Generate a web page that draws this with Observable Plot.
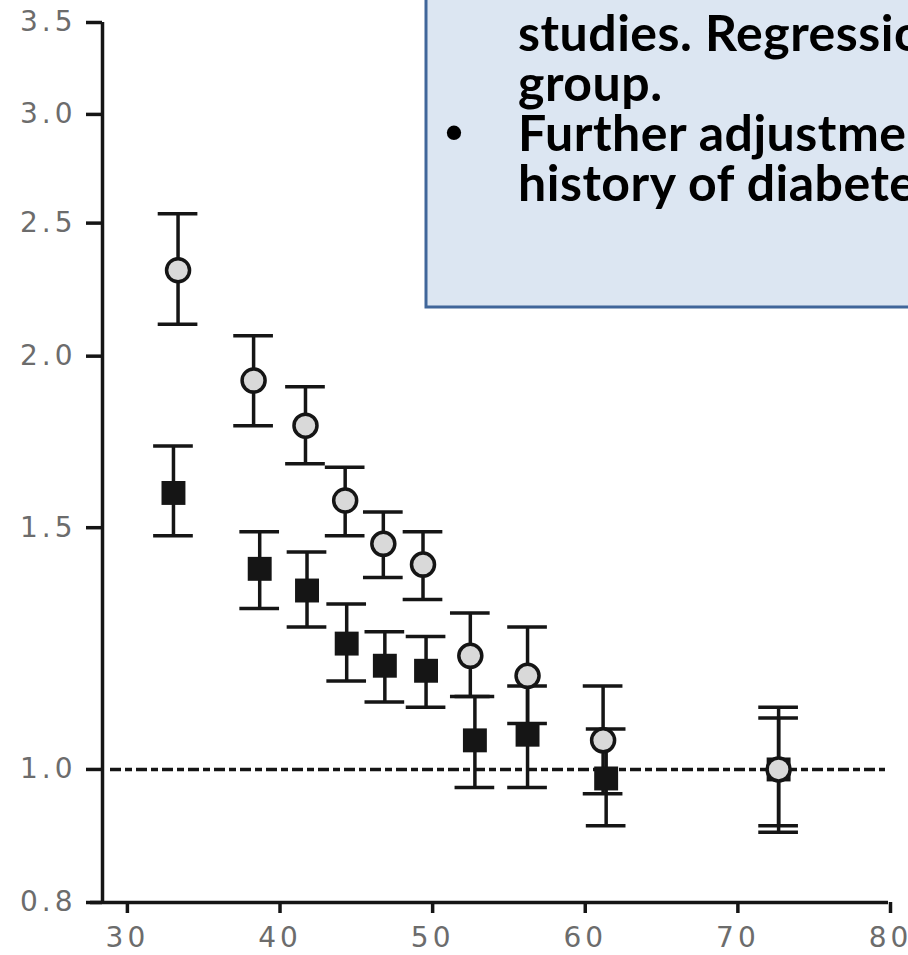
<!DOCTYPE html>
<html>
<head>
<meta charset="utf-8">
<script src="https://cdn.jsdelivr.net/npm/d3@7"></script>
<script src="https://cdn.jsdelivr.net/npm/@observablehq/plot@0.6"></script>
<style>
  html, body { margin: 0; padding: 0; background: #fff; overflow: hidden; }
  #wrap { position: relative; width: 908px; height: 955px; }
  #wrap > svg { position: absolute; left: 0; top: 0; }
  #wrap [aria-label="y-axis tick label"] text,
  #wrap [aria-label="x-axis tick label"] text { letter-spacing: 4px; }
</style>
</head>
<body>
<div id="wrap"></div>
<script>
// Age (years) on the x axis, hazard ratio (log scale) on the y axis.
const xTicks = [30, 40, 50, 60, 70, 80];
const yTicks = [0.8, 1.0, 1.5, 2.0, 2.5, 3.0, 3.5];

// Grey circles: hazard ratio with 95% CI by age group
const circleAge = [33.45, 38.4, 41.8, 44.4, 46.9, 49.5, 52.6, 56.35, 61.3, 72.8];
const circleHR  = [2.31, 1.92, 1.78, 1.57, 1.46, 1.41, 1.21, 1.17, 1.05, 1.00];
const circleLo  = [2.11, 1.78, 1.67, 1.48, 1.38, 1.33, 1.13, 1.08, 0.96, 0.90];
const circleHi  = [2.54, 2.07, 1.90, 1.66, 1.54, 1.49, 1.30, 1.27, 1.15, 1.11];

// Black squares: further adjusted hazard ratio with 95% CI
const squareAge = [33.15, 38.8, 41.9, 44.5, 47.0, 49.7, 52.9, 56.35, 61.5, 72.8];
const squareHR  = [1.59, 1.40, 1.35, 1.235, 1.19, 1.18, 1.05, 1.06, 0.985, 1.00];
const squareLo  = [1.48, 1.31, 1.27, 1.16, 1.12, 1.11, 0.97, 0.97, 0.91, 0.91];
const squareHi  = [1.72, 1.49, 1.44, 1.32, 1.26, 1.25, 1.13, 1.15, 1.07, 1.09];

// Text of the note panel
const noteLines = ["studies. Regression", "group.", "Further adjustment", "history of diabetes"];
const noteBullets = [false, false, true, false];

const toRows = (age, hr, lo, hi) => age.map((a, i) => ({age: a, hr: hr[i], lo: lo[i], hi: hi[i]}));
const circles = toRows(circleAge, circleHR, circleLo, circleHi);
const squares = toRows(squareAge, squareHR, squareLo, squareHi);
const allRows = squares.concat(circles);

const capHalf = 1.3; // half-width of the whiskers' caps, in years
const ink = "#151515";
const lw = 3.5;

const chart = Plot.plot({
  width: 908,
  height: 955,
  marginLeft: 102,
  marginRight: 20,
  marginTop: 22,
  marginBottom: 53,
  style: {background: "white", fontFamily: "DejaVu Sans", overflow: "visible"},
  x: {domain: [28.5, 80]},
  y: {type: "log", domain: [0.8, 3.5]},
  marks: [
    Plot.axisY(yTicks, {
      tickSize: 16, tickPadding: 10, tickFormat: d3.format(".1f"),
      stroke: ink, strokeWidth: lw, fill: "#6c6c6c", fontSize: 28, label: null
    }),
    Plot.axisX(xTicks, {
      tickSize: 11, tickPadding: 14, tickFormat: d3.format("d"),
      stroke: ink, strokeWidth: lw, fill: "#6c6c6c", fontSize: 28, label: null,
      dx: 2
    }),
    Plot.ruleX([28.5], {stroke: ink, strokeWidth: lw}),
    Plot.ruleY([0.8], {stroke: ink, strokeWidth: lw, insetLeft: -12}),
    Plot.ruleY([1.0], {stroke: ink, strokeWidth: lw, strokeDasharray: "11,4,7,4", insetLeft: 8, insetRight: 3}),
    // confidence intervals
    Plot.ruleX(allRows, {x: "age", y1: "lo", y2: "hi", stroke: ink, strokeWidth: lw}),
    Plot.ruleY(allRows, {y: "lo", x1: d => d.age - capHalf, x2: d => d.age + capHalf, stroke: ink, strokeWidth: lw}),
    Plot.ruleY(allRows, {y: "hi", x1: d => d.age - capHalf, x2: d => d.age + capHalf, stroke: ink, strokeWidth: lw}),
    // point estimates
    Plot.dot(squares, {x: "age", y: "hr", symbol: "square", r: 13.5, fill: ink, stroke: "none"}),
    Plot.dot(circles, {x: "age", y: "hr", r: 11.5, fill: "#d9d9d9", stroke: ink, strokeWidth: lw})
  ]
});

const wrap = document.getElementById("wrap");
wrap.appendChild(chart);

// Note panel laid over the upper right of the chart
const note = d3.create("svg")
  .attr("width", 908)
  .attr("height", 955)
  .style("pointer-events", "none");

note.append("rect")
  .attr("x", 426).attr("y", -20)
  .attr("width", 600).attr("height", 327)
  .attr("fill", "#dce6f2")
  .attr("stroke", "#40669a")
  .attr("stroke-width", 3);

const lineStep = 50.3;
const firstBaseline = 50.5;
const textG = note.append("g")
  .attr("font-family", "Lato, 'Open Sans', sans-serif")
  .attr("font-weight", 700)
  .attr("font-size", 50)
  .attr("letter-spacing", "0.5px")
  .attr("fill", "#000");

noteLines.forEach((t, i) => {
  const yb = firstBaseline + i * lineStep;
  textG.append("text").attr("x", 518).attr("y", yb).text(t);
  if (noteBullets[i]) {
    textG.append("text")
      .attr("x", 454).attr("y", yb - 2)
      .attr("text-anchor", "middle")
      .attr("letter-spacing", "0px")
      .attr("font-family", "Arial, 'Liberation Sans', sans-serif")
      .text("•");
  }
});

wrap.appendChild(note.node());
</script>
</body>
</html>
